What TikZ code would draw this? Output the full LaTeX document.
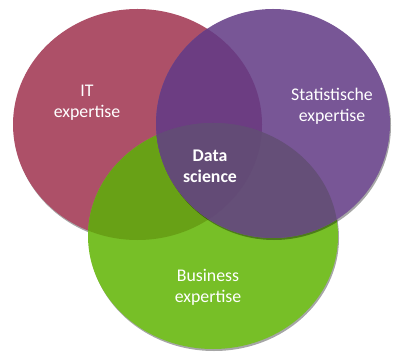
\documentclass[tikz,border=0pt]{standalone}
\usepackage{fontspec}
\setmainfont{Carlito}
\definecolor{itred}{RGB}{173,80,104}
\definecolor{statpurple}{RGB}{120,86,150}
\definecolor{bizgreen}{RGB}{119,191,39}
\definecolor{redgreen}{RGB}{104,161,22}
\definecolor{redpurple}{RGB}{108,61,130}
\definecolor{greenpurple}{RGB}{101,79,120}
\definecolor{allthree}{RGB}{99,75,118}
\tikzset{
  lbl/.style={text=white, font=\fontsize{17.8}{21.4}\selectfont, align=center, inner sep=0pt},
  shade/.style={fill=black, opacity=0.35, shift={(1,2)}},
}
\newcommand{\itset}{(137.5,124.5) ellipse [x radius=124.5, y radius=115.5]}
\newcommand{\statset}{(273,123.5) ellipse [x radius=117, y radius=114.5]}
\newcommand{\bizset}{(213,236) ellipse [x radius=125, y radius=113]}
\begin{document}
\begin{tikzpicture}[x=1pt,y=-1pt]
\useasboundingbox (0,0) rectangle (395,352);
% IT circle
\fill[shade] \itset;
\fill[itred] \itset;
% Business circle
\fill[shade] \bizset;
\fill[bizgreen] \bizset;
\begin{scope}
  \clip \itset;
  \fill[redgreen] \bizset;
\end{scope}
% Statistics circle, laid over the other two
\fill[shade] \statset;
\fill[statpurple] \statset;
\begin{scope}
  \clip \statset;
  \fill[redpurple] \itset;
  \fill[greenpurple] \bizset;
  \clip \itset;
  \fill[allthree] \bizset;
\end{scope}
% labels
\node[lbl] (it) at (87,103) {IT\\expertise};
\node[lbl] (stat) at (332,106.5) {Statistische\\expertise};
\node[lbl,font=\fontsize{17.8}{21.4}\selectfont\bfseries] (ds) at (210,166.5) {Data\\science};
\node[lbl] (biz) at (208,287.5) {Business\\expertise};
\end{tikzpicture}
\end{document}
